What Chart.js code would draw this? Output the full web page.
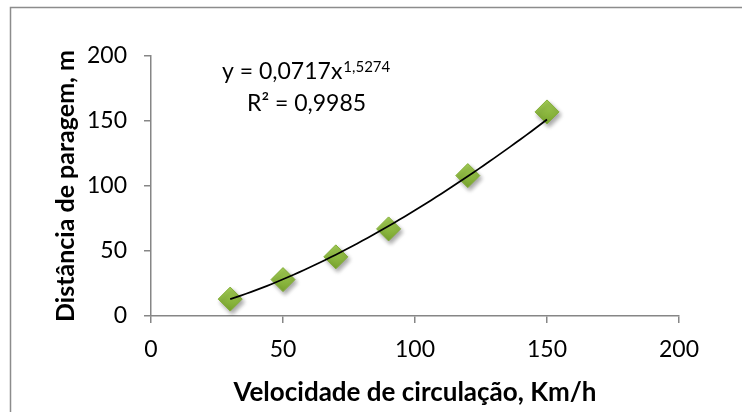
<!DOCTYPE html>
<html>
<head>
<meta charset="utf-8">
<script src="https://cdn.jsdelivr.net/npm/chart.js@4.4.0/dist/chart.umd.min.js"></script>
<style>
  html, body { margin: 0; padding: 0; background: #fff; }
  #wrap { width: 742px; height: 412px; position: relative; }
</style>
</head>
<body>
<div id="wrap"><canvas id="chart"></canvas></div>
<script>
// data
const speeds = [30, 50, 70, 90, 120, 150];            // km/h
const distances = [13, 28, 45.5, 67, 108, 157];       // m
const xTicks = [0, 50, 100, 150, 200];
const yTicks = [0, 50, 100, 150, 200];

// power trendline shown on the chart: y = a * x^b
const trendA = 0.0717;
const trendB = 1.5274;
const trendLabel = 'y = 0,0717x';
const trendExp = '1,5274';
const r2Label = 'R² = 0,9985';

const font = 'Lato, "Open Sans", sans-serif';

const trendPoints = [];
for (let x = speeds[0]; x <= speeds[speeds.length - 1]; x += 2) {
    trendPoints.push({ x: x, y: trendA * Math.pow(x, trendB) });
}

const points = speeds.map((s, i) => ({ x: s, y: distances[i] }));

// green diamond with a light top and darker bottom
function diamondFill(c) {
    const chart = c.chart;
    if (!chart.chartArea || c.parsed == null) return '#8dba3f';
    const py = chart.scales.y.getPixelForValue(c.parsed.y);
    const g = chart.ctx.createLinearGradient(0, py - 12, 0, py + 12);
    g.addColorStop(0, '#a3cd56');
    g.addColorStop(1, '#79a52e');
    return g;
}

// outer frame, marker shadow and equation text
const extras = {
    id: 'extras',
    beforeDatasetDraw(chart, args) {
        if (args.index === 1) {
            const ctx = chart.ctx;
            ctx.save();
            ctx.shadowColor = 'rgba(0,0,0,0.35)';
            ctx.shadowBlur = 4;
            ctx.shadowOffsetX = 2;
            ctx.shadowOffsetY = 3;
        }
    },
    afterDatasetDraw(chart, args) {
        if (args.index === 1) chart.ctx.restore();
    },
    afterDraw(chart) {
        const ctx = chart.ctx;
        ctx.save();
        ctx.strokeStyle = '#8c8c8c';
        ctx.lineWidth = 1.5;
        ctx.strokeRect(10.5, 7.5, 900, 900);

        ctx.fillStyle = '#000';
        ctx.textBaseline = 'alphabetic';
        ctx.textAlign = 'left';
        ctx.font = '23px ' + font;
        ctx.fillText(trendLabel, 222, 79);
        const w = ctx.measureText(trendLabel).width;
        ctx.font = '15px ' + font;
        ctx.fillText(trendExp, 222 + w + 1, 72);
        ctx.font = '23px ' + font;
        ctx.fillText(r2Label, 247, 111);
        ctx.restore();
    }
};

const axisColor = '#868686';

new Chart(document.getElementById('chart'), {
    type: 'scatter',
    data: {
        datasets: [
            {
                label: 'Tendência',
                data: trendPoints,
                showLine: true,
                borderColor: '#000',
                borderWidth: 1.75,
                pointRadius: 0,
                tension: 0,
                fill: false
            },
            {
                label: 'Distância',
                data: points,
                pointStyle: 'rectRot',
                pointRadius: 12,
                pointHoverRadius: 12,
                backgroundColor: diamondFill,
                borderColor: '#82ad37',
                borderWidth: 1
            }
        ]
    },
    options: {
        responsive: true,
        maintainAspectRatio: false,
        animation: false,
        events: [],
        layout: { padding: { left: 0, top: 56, right: 63, bottom: 0 } },
        plugins: { legend: { display: false }, tooltip: { enabled: false } },
        scales: {
            x: {
                type: 'linear',
                min: xTicks[0],
                max: xTicks[xTicks.length - 1],
                afterBuildTicks(scale) { scale.ticks = xTicks.map(v => ({ value: v })); },
                afterFit(scale) { scale.height = 96; },
                border: { display: true, color: axisColor, width: 1.5 },
                grid: { drawOnChartArea: false, drawTicks: true, tickLength: 7, color: axisColor, lineWidth: 1.5 },
                ticks: { color: '#000', font: { family: font, size: 23 }, padding: 13 },
                title: {
                    display: true,
                    text: 'Velocidade de circulação, Km/h',
                    color: '#000',
                    font: { family: font, size: 26, weight: 'bold' },
                    padding: { top: 0, bottom: 4 }
                }
            },
            y: {
                type: 'linear',
                min: yTicks[0],
                max: yTicks[yTicks.length - 1],
                afterBuildTicks(scale) { scale.ticks = yTicks.map(v => ({ value: v })); },
                afterFit(scale) { scale.width = 151; },
                border: { display: true, color: axisColor, width: 1.5 },
                grid: { drawOnChartArea: false, drawTicks: true, tickLength: 7, color: axisColor, lineWidth: 1.5 },
                ticks: { color: '#000', font: { family: font, size: 23 }, padding: 17 },
                title: {
                    display: true,
                    text: 'Distância de paragem, m',
                    color: '#000',
                    font: { family: font, size: 25, weight: 'bold' },
                    padding: { top: 51, bottom: 0 }
                }
            }
        }
    },
    plugins: [extras]
});
</script>
</body>
</html>
